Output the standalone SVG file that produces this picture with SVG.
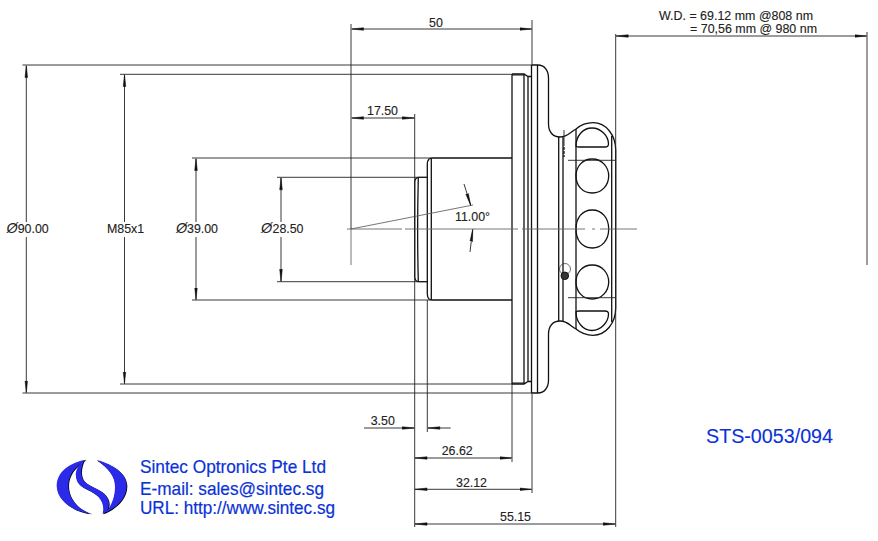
<svg xmlns="http://www.w3.org/2000/svg" width="878" height="541" viewBox="0 0 878 541">
<style>
text{font-family:"Liberation Sans",Arial,sans-serif;font-size:12.4px;fill:#222;stroke:#222;stroke-width:.12}
.d{fill:none;stroke:#222;stroke-width:.9}
.da{fill:none;stroke:#222;stroke-width:.9;marker-start:url(#as);marker-end:url(#ae)}
.o{fill:none;stroke:#111;stroke-width:1.3}
.c{fill:none;stroke:#666;stroke-width:.9}
.b{fill:#0a32d8;stroke:#0a32d8;stroke-width:.2;font-size:18.2px}
.sym{font-size:14.5px;font-style:italic;stroke-width:0}
</style>
<defs>
<marker id="ae" markerUnits="userSpaceOnUse" markerWidth="13" markerHeight="7" refX="12" refY="3" orient="auto"><path d="M0,1.7L12,3L0,4.3Z" fill="#111" stroke="#111" stroke-width=".5"/></marker>
<marker id="as" markerUnits="userSpaceOnUse" markerWidth="13" markerHeight="7" refX="0" refY="3" orient="auto"><path d="M12,1.7L0,3L12,4.3Z" fill="#111" stroke="#111" stroke-width=".5"/></marker>
<path id="sq" d="M592.3,0C602,0 608.7,8 608.7,17C608.7,26 602,34 592.3,34C582,34 576,26 576,17C576,8 582,0 592.3,0Z"/>
<path id="lg" d="M108,14C60,22 20,50 20,92C20,135 70,172 125,176C85,165 55,130 55,92C55,60 75,35 108,14ZM101,18C78,35 72,58 82,80C92,100 125,105 145,125C160,142 162,158 158,176C190,165 230,135 230,92C230,55 190,28 140,15C175,38 195,65 195,95C195,125 185,150 170,170C185,145 175,122 150,107C125,92 100,88 95,62C92,45 96,30 101,18Z"/>
</defs>
<g id="part">
<path class="o" d="M531.5,65L538,65C544,65 548.5,70 548.5,78L548.5,124C548.5,132 553,137 560,137C568,137 570,132 576,129C582,124 588,122.7 593,122.7C606,122.7 615.7,135 615.7,150L615.7,308C615.7,323 606,335.3 593,335.3C588,335.3 582,334 576,329C570,326 568,321 560,321C553,321 548.5,326 548.5,334L548.5,380C548.5,388 544,393 538,393L531.5,393"/>
<path d="M512,74L524,74L524,76L512,76ZM512,382L524,382L524,384L512,384Z" fill="#888"/>
<path class="o" d="M512,74L524,74L528,76.5L531.5,76.5M512,384L524,384L528,381.5L531.5,381.5M512,74L512,384M524,74L524,384M528,76.5L528,381.5M531.5,65L531.5,393M537.5,65L537.5,393M558.7,137L558.7,321M563,137L563,321M576,129L576,329M611.7,136L611.7,322"/>
<path class="o" d="M431.3,158L512,158M431.3,300L512,300M431.3,158L431.3,300M431.3,158L429,159Q427.3,161 427.3,164L427.3,294Q427.3,297 429,299L431.3,300"/>
<path class="o" d="M427.3,177.3L418,177.3Q415,178 414.7,182L414.7,277Q415,281 418,281.7L427.3,281.7M418.3,178C417.5,210 417.5,250 418.3,281"/>
<path class="d" d="M564,130L564,146"/>
<path class="o" stroke-dasharray="3 1" d="M564,147L564,157"/>
<path class="o" d="M576,146C576,136 583,128 592,128C601,128 608.5,136 608.5,144Q608.5,147 605,147L579,147Q576,147 576,146Z"/>
<use href="#sq" class="o" y="159"/>
<path class="o" d="M592.3,210C602,210 608.7,218 608.7,229C608.7,240 602,248 592.3,248C582,248 576,240 576,229C576,218 582,210 592.3,210Z"/>
<use href="#sq" class="o" y="265"/>
<path class="o" d="M576,312C576,322 583,330.5 592,330.5C601,330.5 608.5,322 608.5,314Q608.5,311 605,311L579,311Q576,311 576,312Z"/>
<circle cx="565" cy="269" r="5.5" fill="none" stroke="#333" stroke-width=".7"/>
<circle cx="564.8" cy="275.8" r="3.8" fill="#333" stroke="#111"/>
</g>
<g id="connectors">
<path class="c" d="M347,229L402,229M405,229L518,229M522,229L585,229M592,229L595,229M600,229L637,229M351,229L351,265M351,229L473,205"/>
<path class="d" d="M351,24L351,229M532,20L532,65M532,393L532,493M615.7,34L615.7,527M867,32L867,265M414.7,114L414.7,527M427.3,300L427.3,432M512,384L512,462"/>
<path class="d" d="M22.5,65L531.5,65M22.5,393L531.5,393M120,74.3L512,74.3M120,384L512,384M192,158L431,158M192,300L431,300M277,177.3L427,177.3M277,281.7L427,281.7M568,160.3L615.7,160.3M568,297.7L615.7,297.7"/>
<g>
<path class="d" marker-start="url(#as)" d="M26.3,65.5L26.3,222"/><path class="d" marker-end="url(#ae)" d="M26.3,237L26.3,392.5"/>
<path class="d" marker-start="url(#as)" d="M124.5,74.5L124.5,222"/><path class="d" marker-end="url(#ae)" d="M124.5,237L124.5,383.5"/>
<path class="d" marker-start="url(#as)" d="M196,158.5L196,222"/><path class="d" marker-end="url(#ae)" d="M196,237L196,299.5"/>
<path class="d" marker-start="url(#as)" d="M281,177.8L281,222"/><path class="d" marker-end="url(#ae)" d="M281,237L281,281.2"/>
<path class="da" d="M351.5,29L531.5,29"/>
<path class="da" d="M616.2,36L866.5,36"/>
<path class="da" d="M351.5,118L414.2,118"/>
<path class="d" marker-end="url(#ae)" d="M364,428L414.2,428"/><path class="d" marker-start="url(#as)" d="M427.8,428L450.7,428"/>
<path class="da" d="M415,458L511.5,458"/>
<path class="da" d="M415,489.3L531.5,489.3"/>
<path class="da" d="M415,524L615.2,524"/>
<path class="d" marker-end="url(#ae)" d="M464,184L470.7,205.3"/>
<path class="d" marker-end="url(#ae)" d="M470,252L472.7,229.5"/>
</g>
</g>
<g id="labels">
<text x="429" y="27">50</text>
<text x="367" y="115">17.50</text>
<text x="455" y="220.7">11.00°</text>
<text x="370.7" y="425.3">3.50</text>
<text x="441.7" y="455">26.62</text>
<text x="456" y="486.7">32.12</text>
<text x="500" y="521.3">55.15</text>
<text x="6.5" y="232.7" class="sym">Ø</text><text x="17.7" y="232.7">90.00</text>
<text x="107" y="232.7">M85x1</text>
<text x="176" y="232.7" class="sym">Ø</text><text x="187" y="232.7">39.00</text>
<text x="261" y="232.7" class="sym">Ø</text><text x="272.5" y="232.7">28.50</text>
<text x="659" y="19.5" textLength="154" lengthAdjust="spacingAndGlyphs">W.D. = 69.12 mm @808 nm</text>
<text x="690" y="32.7" textLength="127" lengthAdjust="spacingAndGlyphs">= 70,56 mm @ 980 nm</text>
<text x="706" y="443" textLength="127" lengthAdjust="spacingAndGlyphs" style="fill:#0a32d8;stroke:#0a32d8;font-size:19.7px">STS-0053/094</text>
</g>
<g id="logo">
<use href="#lg" transform="translate(50.7,455.7) scale(.3333)" fill="#000"/>
<use href="#lg" transform="translate(50,455) scale(.3333)" fill="#2a2ae8"/>
<text class="b" x="140" y="473" textLength="186" lengthAdjust="spacingAndGlyphs">Sintec Optronics Pte Ltd</text>
<text class="b" x="140" y="494.5" textLength="184" lengthAdjust="spacingAndGlyphs">E-mail: sales@sintec.sg</text>
<text class="b" x="140" y="514" textLength="195" lengthAdjust="spacingAndGlyphs">URL: http://www.sintec.sg</text>
</g>
</svg>
